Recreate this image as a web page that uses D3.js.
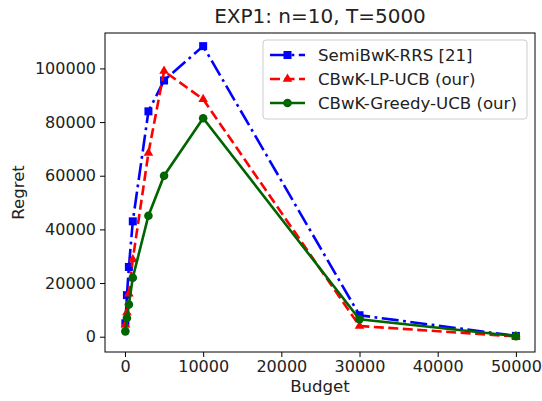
<!DOCTYPE html>
<html>
<head>
<meta charset="utf-8">
<script src="https://cdn.jsdelivr.net/npm/d3@7"></script>
<style>
  body { margin: 0; background: #fff; }
  svg { font-family: "DejaVu Sans", sans-serif; }
</style>
</head>
<body>
<svg id="chart" width="542" height="401"></svg>
<script>
// budgets (x) and regret per method
var budgets = [50, 250, 500, 1000, 3000, 5000, 10000, 30000, 50000]
var semiRRS = [5000, 15500, 26000, 43000, 84000, 95500, 108300, 8000, 300]
var lpUCB = [4500, 9000, 16000, 28800, 68500, 99000, 88500, 4000, 100]
var greedyUCB = [2000, 7000, 12000, 22000, 45100, 60000, 81400, 6500, 200]
var xTicks = [0, 10000, 20000, 30000, 40000, 50000]
var yTicks = [0, 20000, 40000, 60000, 80000, 100000]

var series = [
    { name: "SemiBwK-RRS [21]", values: semiRRS, color: "#0000ff", dash: "17,4.5,2.8,4.5", marker: "square" },
    { name: "CBwK-LP-UCB (our)", values: lpUCB, color: "#ff0000", dash: "10,4.5", marker: "triangle" },
    { name: "CBwK-Greedy-UCB (our)", values: greedyUCB, color: "#006400", dash: null, marker: "circle" }
]

var plotLeft = 105, plotRight = 535, plotTop = 33, plotBottom = 352

var x = d3.scaleLinear().domain([-2555, 52445]).range([plotLeft, plotRight])
var y = d3.scaleLinear().domain([-5700, 113200]).range([plotBottom, plotTop])

var svg = d3.select("#chart")

// axes
var xAxis = svg.append("g")
    .attr("transform", "translate(0," + plotBottom + ")")
    .call(d3.axisBottom(x).tickValues(xTicks).tickFormat(d3.format("d")).tickSize(5).tickPadding(4))
var yAxis = svg.append("g")
    .attr("transform", "translate(" + plotLeft + ",0)")
    .call(d3.axisLeft(y).tickValues(yTicks).tickFormat(d3.format("d")).tickSize(5).tickPadding(4))

svg.selectAll(".domain").remove()
svg.selectAll(".tick line").attr("stroke", "#000").attr("stroke-width", 1)
svg.selectAll(".tick text")
    .attr("font-size", "16px")
    .attr("font-family", "DejaVu Sans, sans-serif")
    .attr("fill", "#222")

svg.append("rect")
    .attr("x", plotLeft).attr("y", plotTop)
    .attr("width", plotRight - plotLeft).attr("height", plotBottom - plotTop)
    .attr("fill", "none").attr("stroke", "#000").attr("stroke-width", 1)

var line = d3.line()
    .x(function (d, i) { return x(budgets[i]) })
    .y(function (d) { return y(d) })

function drawMarker(g, kind, color, cx, cy) {
    if (kind == "square") {
        g.append("rect").attr("x", cx - 4).attr("y", cy - 4).attr("width", 8).attr("height", 8).attr("fill", color)
    } else if (kind == "triangle") {
        g.append("path").attr("d", d3.symbol().type(d3.symbolTriangle).size(40)()).attr("transform", "translate(" + cx + "," + cy + ")").attr("fill", color)
    } else {
        g.append("circle").attr("cx", cx).attr("cy", cy).attr("r", 4.3).attr("fill", color)
    }
}

var plot = svg.append("g")
series.forEach(function (s) {
    var g = plot.append("g")
    g.append("path")
        .attr("d", line(s.values))
        .attr("fill", "none")
        .attr("stroke", s.color)
        .attr("stroke-width", 2.6)
        .attr("stroke-dasharray", s.dash)
    s.values.forEach(function (v, i) {
        drawMarker(g, s.marker, s.color, x(budgets[i]), y(v))
    })
})

// legend
var leg = svg.append("g")
leg.append("rect")
    .attr("x", 263).attr("y", 40).attr("width", 264).attr("height", 79).attr("rx", 3)
    .attr("fill", "#fff").attr("fill-opacity", 0.8).attr("stroke", "#ccc")
series.forEach(function (s, i) {
    var ly = 55 + i * 24
    leg.append("line")
        .attr("x1", 270).attr("x2", 305).attr("y1", ly).attr("y2", ly)
        .attr("stroke", s.color).attr("stroke-width", 2.6)
        .attr("stroke-dasharray", s.dash)
    drawMarker(leg, s.marker, s.color, 287.5, ly)
    leg.append("text")
        .attr("x", 318).attr("y", ly + 6)
        .attr("font-size", "16.6px")
        .attr("fill", "#222")
        .text(s.name)
})

// titles
svg.append("text")
    .attr("x", (plotLeft + plotRight) / 2).attr("y", 23)
    .attr("text-anchor", "middle")
    .attr("font-size", "20px")
    .attr("fill", "#222")
    .text("EXP1: n=10, T=5000")
svg.append("text")
    .attr("x", (plotLeft + plotRight) / 2).attr("y", 392)
    .attr("text-anchor", "middle")
    .attr("font-size", "16.6px")
    .attr("fill", "#222")
    .text("Budget")
svg.append("text")
    .attr("transform", "translate(24," + (plotTop + plotBottom) / 2 + ") rotate(-90)")
    .attr("text-anchor", "middle")
    .attr("font-size", "16.6px")
    .attr("fill", "#222")
    .text("Regret")
</script>
</body>
</html>
